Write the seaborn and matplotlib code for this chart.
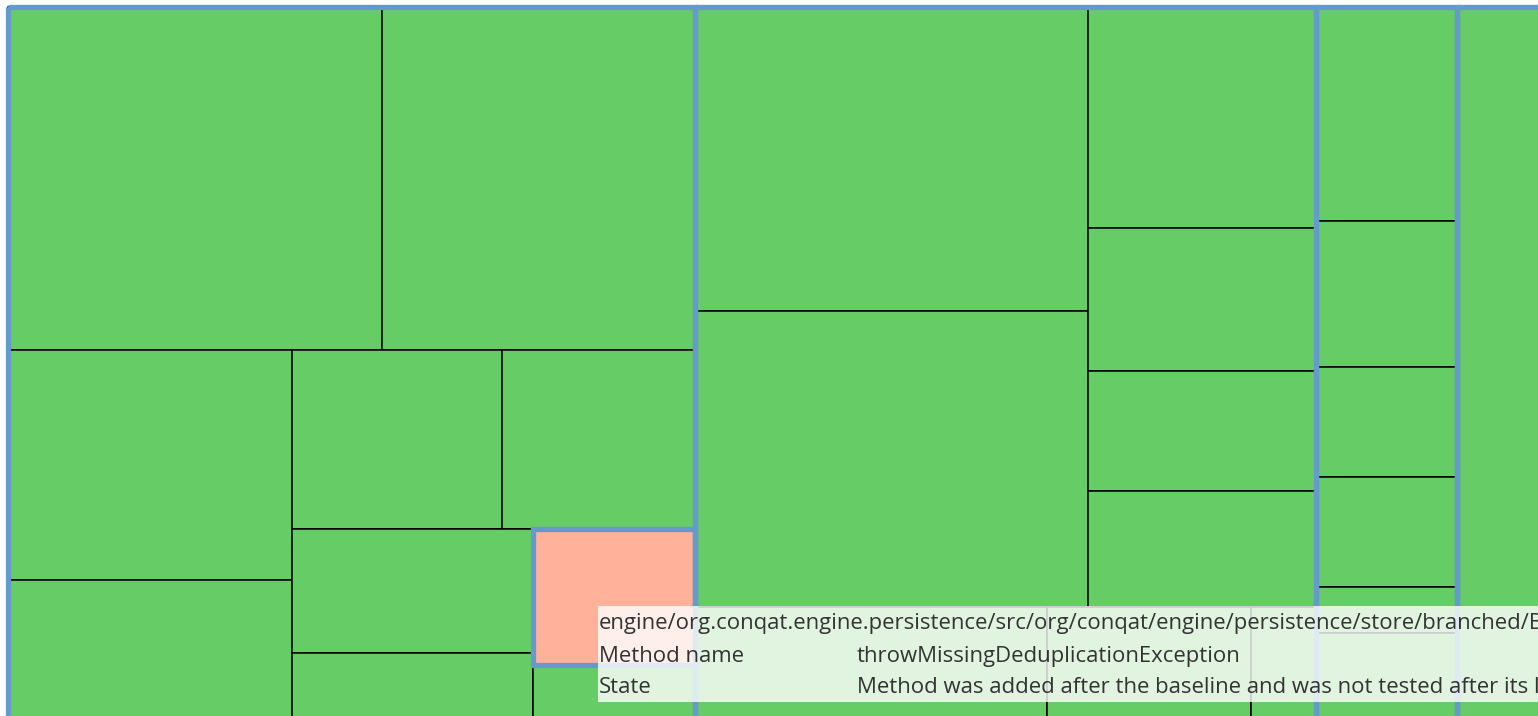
# %%
import matplotlib
matplotlib.use("Agg")
import matplotlib.pyplot as plt
from matplotlib.patches import Rectangle
import seaborn as sns

# %%
# method sizes per block (lists = layout splits, tuples = files)
a_top = [1283, 1074]
a_left = [653, 454]
a_mid_top = [376, 345]
a_mid_low = [298, 209]
a_untested = (220,)
a_corner = 122
b_left = [1195, 1163]
b_right = [504, 326, 274, 264]
b_bottom = [468, 271, 86]
c_methods = [302, 206, 155, 155, 65, 151]
d_methods = [1466]

tree = [
    (a_top, [a_left, [a_mid_top, [a_mid_low, [a_untested, a_corner]]]]),
    ([b_left, b_right], b_bottom),
    tuple(c_methods),
    tuple(d_methods),
]
untested_files = [a_untested]

tip_path = "engine/org.conqat.engine.persistence/src/org/conqat/engine/persistence/store/branched/B"
tip_keys = ["Method name", "State"]
tip_values = ["throwMissingDeduplicationException",
              "Method was added after the baseline and was not tested after its la"]

GREEN = "#66CC66"
SALMON = "#FFB199"
FRAME = "#6699CC"

# %%
sns.set_style("white")
plt.rcParams["font.family"] = ["Open Sans", "DejaVu Sans"]

fig = plt.figure(figsize=(15.38, 7.16), dpi=100)
ax = fig.add_axes([0, 0, 1, 1])
frames = []


def total(node):
    if isinstance(node, (list, tuple)):
        return sum(total(c) for c in node)
    return node


def layout(node, x, y, w, h, depth, color):
    if not isinstance(node, (list, tuple)):
        ax.add_patch(Rectangle((x, y), w, h, facecolor=color, edgecolor="black",
                               lw=1.1, zorder=1))
        return
    if any(node is f for f in untested_files):
        color = SALMON
    s = total(node)
    pos = x if depth % 2 == 0 else y
    for child in node:
        frac = total(child) / s
        if depth % 2 == 0:
            layout(child, pos, y, w * frac, h, depth + 1, color)
            pos += w * frac
        else:
            layout(child, x, pos, w, h * frac, depth + 1, color)
            pos += h * frac
    if isinstance(node, tuple):
        frames.append((x, y, w, h))


root_h = 733
root_w = total(tree) * 100 / root_h
layout(tree, 8, 7, root_w, root_h, 0, GREEN)
for (x, y, w, h) in frames:
    ax.add_patch(Rectangle((x, y), w, h, fill=False, edgecolor=FRAME, lw=3.8, zorder=3))

# tooltip
ax.add_patch(Rectangle((598, 606), 1000, 96, facecolor="white", alpha=0.8,
                       edgecolor="none", zorder=4))
ax.text(599, 629, tip_path, fontsize=15.9, color="#333333", va="baseline", zorder=5)
for i, (k, v) in enumerate(zip(tip_keys, tip_values)):
    yb = 662 + i * 31
    ax.text(599, yb, k, fontsize=15.9, color="#333333", va="baseline", zorder=5)
    ax.text(857, yb, v, fontsize=15.9, color="#333333", va="baseline", zorder=5)

ax.set_xlim(0, 1538)
ax.set_ylim(716, 0)
ax.axis("off")
plt.savefig("out.png", dpi=100)
